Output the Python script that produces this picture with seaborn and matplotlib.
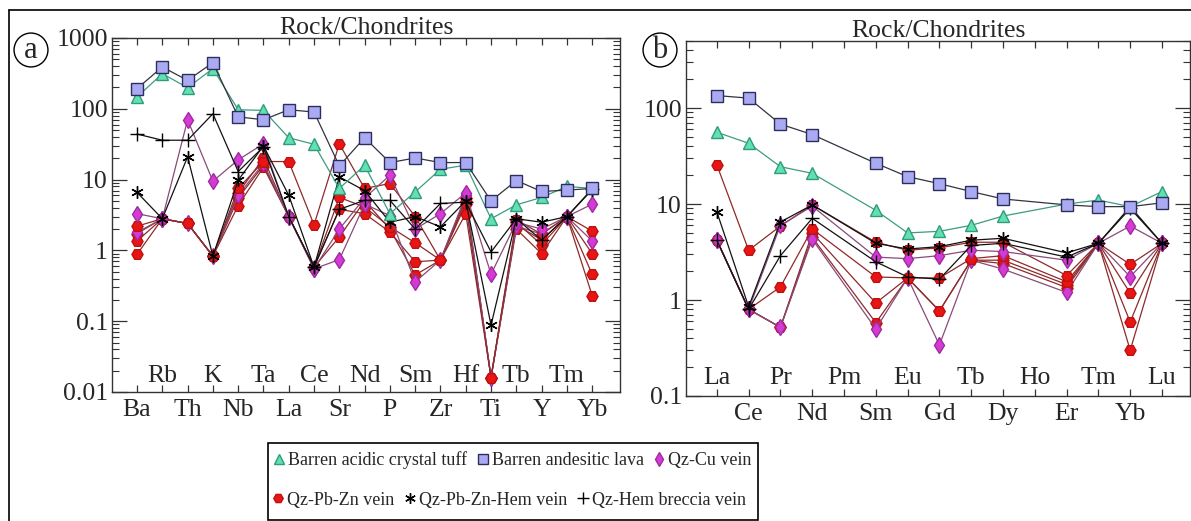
import numpy as np
import pandas as pd
import seaborn as sns
import matplotlib
matplotlib.use("Agg")
import matplotlib.pyplot as plt
from matplotlib.lines import Line2D
from matplotlib.patches import Rectangle
from matplotlib.ticker import LogLocator, FuncFormatter, NullFormatter

nan = np.nan

# ---------------- data: panel a (spider diagram) ----------------
elements_a = ["Ba", "Rb", "Th", "K", "Nb", "Ta", "La", "Ce", "Sr", "Nd", "P",
              "Sm", "Zr", "Hf", "Ti", "Tb", "Y", "Tm", "Yb"]
tuff_a = [147, 313, 199, 369, 97, 95, 39, 31.5, 7.5, 15.9, 3.3, 6.7, 14, 16, 2.8, 4.4, 5.6, 8.0, 7.5]
lava_a = [193, 390, 252, 449, 77, 70, 97, 90, 15.6, 39, 17.4, 20.2, 17.4, 17.4, 5.0, 9.7, 6.8, 7.1, 7.5]
cu1_a = [3.3, 2.8, 70, 9.5, 19, 32, 3.0, 0.55, 2.0, 5.5, 11.5, 2.0, 3.3, 6.5, 0.46, 2.5, 2.0, 3.0, 4.5]
cu2_a = [1.8, 2.8, 2.4, 0.83, 6.0, 17, 3.0, 0.55, 0.74, 4.5, 3.1, 0.36, 0.73, 6.0, 0.016, 2.2, 1.7, 3.0, 1.36]
pbzn1_a = [2.2, 2.8, 2.4, 0.83, 7.5, 18, 18, 2.3, 32, 7.5, 8.8, 3.0, 0.73, 3.3, 0.016, 2.7, 1.7, 3.0, 1.87]
pbzn2_a = [1.36, 2.8, 2.4, 0.83, 5.5, 16, 3.0, 0.58, 5.6, 4.1, 2.15, 1.28, 0.73, 4.5, 0.016, 2.3, 1.4, 3.0, 0.9]
pbzn3_a = [1.73, 2.8, 2.4, 0.83, 4.3, 15, 3.0, 0.58, 3.8, 3.3, 1.82, 0.69, 0.73, 5.0, 0.016, 2.0, 0.9, 3.0, 0.46]
pbzn4_a = [0.88, 2.8, 2.4, 0.83, 6.5, 20, 3.0, 0.58, 1.55, 5.0, 2.0, 0.45, 0.73, 5.5, 0.016, 2.5, 1.2, 3.0, 0.23]
pbznhem_a = [6.6, 2.8, 21, 0.83, 9.8, 30, 6.0, 0.58, 10.9, 7.0, 2.5, 3.0, 2.15, 5.0, 0.088, 2.8, 2.5, 3.0, 7.2]
hem_a = [44, 36, 36, 85, 13, 29, 3.0, 0.58, 3.8, 5.1, 5.1, 2.0, 4.6, 4.8, 0.95, 2.8, 1.4, 3.0, 7.4]

# ---------------- data: panel b (REE) ----------------
elements_b = ["La", "Ce", "Pr", "Nd", "Pm", "Sm", "Eu", "Gd", "Tb", "Dy", "Ho", "Er", "Tm", "Yb", "Lu"]
tuff_b = [56, 43, 24.5, 20.9, nan, 8.6, 5.0, 5.2, 6.0, 7.5, nan, 10, 11, 9.4, 13.5]
lava_b = [135, 127, 68, 53, nan, 26.6, 19.3, 16.3, 13.5, 11.3, nan, 9.8, 9.4, 9.4, 10.3]
cu1_b = [4.2, 0.8, 6.0, 9.5, nan, 2.8, 2.7, 2.9, 3.3, 3.2, nan, 2.6, 3.9, 5.9, 3.9]
cu2_b = [4.2, 0.8, 0.52, 4.3, nan, 0.5, 1.7, 0.34, 2.6, 2.1, nan, 1.2, 3.9, 1.75, 3.9]
pbzn1_b = [25.6, 3.3, 5.9, 9.8, nan, 4.0, 3.3, 3.5, 4.0, 4.0, nan, 1.8, 3.9, 2.35, 3.9]
pbzn2_b = [4.2, 0.8, 1.37, 5.5, nan, 1.74, 1.7, 1.7, 2.7, 2.9, nan, 1.55, 3.9, 1.18, 3.9]
pbzn3_b = [4.2, 0.8, 0.52, 5.0, nan, 0.93, 1.7, 0.77, 2.6, 2.6, nan, 1.45, 3.9, 0.59, 3.9]
pbzn4_b = [4.2, 0.8, 0.52, 4.5, nan, 0.58, 1.7, 0.77, 2.6, 2.4, nan, 1.35, 3.9, 0.3, 3.9]
pbznhem_b = [8.3, 0.85, 6.5, 9.8, nan, 3.9, 3.4, 3.6, 4.2, 4.4, nan, 3.1, 3.9, 9.4, 3.9]
hem_b = [4.2, 0.8, 2.9, 7.1, nan, 2.5, 1.74, 1.65, 3.7, 3.9, nan, 2.8, 3.9, 9.0, 3.9]

groups = ["Barren acidic crystal tuff", "Barren andesitic lava", "Qz-Cu vein",
          "Qz-Pb-Zn vein", "Qz-Pb-Zn-Hem vein", "Qz-Hem breccia vein"]

samples_a = [("Qz-Pb-Zn vein", pbzn4_a), ("Qz-Pb-Zn vein", pbzn3_a), ("Qz-Pb-Zn vein", pbzn2_a),
             ("Qz-Cu vein", cu2_a), ("Qz-Pb-Zn vein", pbzn1_a), ("Qz-Cu vein", cu1_a),
             ("Qz-Pb-Zn-Hem vein", pbznhem_a), ("Qz-Hem breccia vein", hem_a),
             ("Barren acidic crystal tuff", tuff_a), ("Barren andesitic lava", lava_a)]
samples_b = [("Qz-Pb-Zn vein", pbzn4_b), ("Qz-Pb-Zn vein", pbzn3_b), ("Qz-Cu vein", cu2_b),
             ("Qz-Pb-Zn vein", pbzn2_b), ("Qz-Pb-Zn vein", pbzn1_b), ("Qz-Cu vein", cu1_b),
             ("Qz-Pb-Zn-Hem vein", pbznhem_b), ("Qz-Hem breccia vein", hem_b),
             ("Barren acidic crystal tuff", tuff_b), ("Barren andesitic lava", lava_b)]

# ---------------- styles ----------------
STY = {
    "Barren acidic crystal tuff": dict(marker="^", mfc="#62E0B2", mec="#2F9C7C", lc="#3C9C82", ms=9),
    "Barren andesitic lava": dict(marker="s", mfc="#AAAAF2", mec="#2E2E5E", lc="#333340", ms=8.5),
    "Qz-Cu vein": dict(marker="d", mfc="#D43AD4", mec="#A02AA0", lc="#8A4A7A", ms=8.5),
    "Qz-Pb-Zn vein": dict(marker="H", mfc="#E81515", mec="#C01010", lc="#8E2A2A", ms=8),
    "Qz-Pb-Zn-Hem vein": dict(marker=(6, 2, 0), mfc="black", mec="black", lc="#111111", ms=9),
    "Qz-Hem breccia vein": dict(marker="+", mfc="black", mec="black", lc="#111111", ms=10),
}

sns.set_style("white")
plt.rcParams["font.family"] = ["Liberation Serif", "DejaVu Serif"]

W, H = 1191, 521
fig = plt.figure(figsize=(W / 100, H / 100), dpi=100)
axa = fig.add_axes([112 / W, 1 - 392 / H, (620 - 112) / W, (392 - 38) / H])
axb = fig.add_axes([686 / W, 1 - 396 / H, (1190 - 686) / W, (396 - 41) / H])

TICKFS = 18.5


def draw(ax, elements, samples):
    pos = np.arange(len(elements))
    for grp, vals in samples:
        s = STY[grp]
        v = np.asarray(vals, dtype=float)
        m = ~np.isnan(v)
        df = pd.DataFrame({"pos": pos[m], "val": v[m]})
        sns.lineplot(data=df, x="pos", y="val", ax=ax, estimator=None, sort=False,
                     color=s["lc"], linewidth=0.9, marker=s["marker"],
                     markerfacecolor=s["mfc"], markeredgecolor=s["mec"],
                     markeredgewidth=1.0, markersize=s["ms"], legend=False)


def style_axes(ax, elements, ylim, xlim, inner_off, outer_parity):
    ax.set_yscale("log")
    ax.set_ylim(*ylim)
    ax.set_xlim(*xlim)
    ax.set_xlabel("")
    ax.set_ylabel("")
    n = len(elements)
    ax.set_xticks(np.arange(n))
    ax.set_xticklabels([e if i % 2 == outer_parity else "" for i, e in enumerate(elements)],
                       fontsize=TICKFS)
    for i, e in enumerate(elements):
        if i % 2 != outer_parity:
            ax.annotate(e, xy=(i, 0), xycoords=("data", "axes fraction"),
                        xytext=(0, inner_off), textcoords="offset points",
                        ha="center", va="baseline", fontsize=TICKFS)
    ax.yaxis.set_major_locator(LogLocator(base=10, numticks=20))
    ax.yaxis.set_minor_locator(LogLocator(base=10, subs=np.arange(2, 10), numticks=50))
    ax.yaxis.set_major_formatter(FuncFormatter(lambda v, p: "%g" % v))
    ax.yaxis.set_minor_formatter(NullFormatter())
    ax.tick_params(axis="y", which="major", direction="in", length=11, width=0.9,
                   left=True, right=True, labelsize=TICKFS, pad=3, color="#333333")
    ax.tick_params(axis="y", which="minor", direction="in", length=5, width=0.8,
                   left=True, right=True, color="#333333")
    ax.tick_params(axis="x", which="major", direction="in", length=5, width=0.9,
                   top=True, bottom=True, labelsize=TICKFS, pad=5, color="#333333")
    ax.tick_params(axis="x", which="minor", bottom=False, top=False)
    for sp in ax.spines.values():
        sp.set_visible(True)
        sp.set_color("#333333")
        sp.set_linewidth(1.0)
    ax.set_title("Rock/Chondrites", fontsize=TICKFS, pad=3)
    ax.grid(False)


draw(axa, elements_a, samples_a)
draw(axb, elements_b, samples_b)
style_axes(axa, elements_a, (0.01, 1000), (-0.99, 19.1), 7, 0)
style_axes(axb, elements_b, (0.1, 500), (-0.97, 14.88), 8.5, 1)

# panel letters
for x, lab in [(31, "a"), (660, "b")]:
    fig.text(x / W, 1 - 50 / H, lab, ha="center", va="center", fontsize=22,
             bbox=dict(boxstyle="circle,pad=0.08", fc="white", ec="black", lw=1.0))

# outer frame lines
fig.add_artist(Line2D([9 / W, 1.0], [1 - 10 / H, 1 - 10 / H], color="black", lw=1.2,
                      transform=fig.transFigure))
fig.add_artist(Line2D([9 / W, 9 / W], [0, 1 - 10 / H], color="black", lw=1.2,
                      transform=fig.transFigure))

# legend
def handle(grp):
    s = STY[grp]
    ms = s["ms"] * 0.85
    return Line2D([], [], linestyle="none", marker=s["marker"], markerfacecolor=s["mfc"],
                  markeredgecolor=s["mec"], markersize=ms, markeredgewidth=1.0)

row1 = groups[:3]
row2 = groups[3:]
leg_kw = dict(frameon=False, ncol=3, fontsize=13, handlelength=0.7, handletextpad=0.15,
              columnspacing=0.5, borderaxespad=0, borderpad=0, loc="center left")
l1 = fig.legend([handle(g) for g in row1], row1, bbox_to_anchor=(273 / W, 1 - 460 / H), **leg_kw)
l2 = fig.legend([handle(g) for g in row2], row2, bbox_to_anchor=(272 / W, 1 - 500 / H), **leg_kw)
fig.add_artist(Rectangle((268 / W, 1 - 520 / H), 490 / W, 77 / H, fill=False, ec="black",
                         lw=1.2, transform=fig.transFigure))

fig.savefig("out.png", dpi=100)
